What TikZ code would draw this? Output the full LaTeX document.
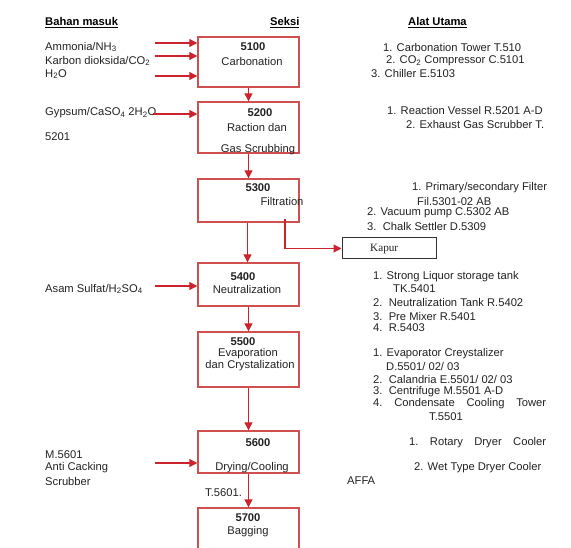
\documentclass[tikz,border=0pt]{standalone}
\usepackage{fontspec}
\setmainfont{Liberation Sans}
\newfontfamily\serifk{Liberation Serif}
\usetikzlibrary{arrows.meta}
\definecolor{boxred}{RGB}{208,80,80}
\definecolor{arrred}{RGB}{205,35,45}
\definecolor{txt}{RGB}{35,35,35}
\begin{document}
\begin{tikzpicture}[x=1pt,y=-1pt,
  fs/.style={font=\fontsize{11.2}{13}\selectfont},
  proc/.style={draw=boxred, line width=1.4pt, minimum width=101pt, inner sep=0pt},
  arr/.style={draw=arrred, line width=1.2pt, -{Triangle[length=8pt,width=8pt]}},
  lbl/.style={fs, anchor=west, inner sep=0pt, text=txt},
  ctr/.style={fs, inner sep=0pt, text=txt},
  bctr/.style={font=\fontsize{11.2}{13}\selectfont\bfseries, inner sep=0pt, text=txt},
  hdr/.style={font=\fontsize{11.2}{13}\selectfont\bfseries, anchor=west, inner sep=0pt, text=black}]
\useasboundingbox (0,0) rectangle (571,548);
\clip (0,0) rectangle (571,548);
\fill[white] (0,0) rectangle (571,548);

% headers
\node[hdr] (h1) at (45,23) {\underline{Bahan masuk}};
\node[hdr] (h2) at (270,23) {\underline{Seksi}};
\node[hdr] (h3) at (408,23) {\underline{Alat Utama}};

% process boxes
\node[proc, minimum height=50pt] (b51) at (248.5,62) {};
\node[proc, minimum height=51pt] (b52) at (248.5,127.5) {};
\node[proc, minimum height=43pt] (b53) at (248.5,200.5) {};
\node[proc, minimum height=43pt] (b54) at (248.5,284.5) {};
\node[proc, minimum height=55pt] (b55) at (248.5,359.5) {};
\node[proc, minimum height=42pt] (b56) at (248.5,452) {};
\node[proc, minimum height=54pt] (b57) at (248.5,535) {};

% box texts
\node[bctr] (t51a) at (253,47) {5100};
\node[ctr]  (t51b) at (252,61) {Carbonation};
\node[bctr] (t52a) at (260,113) {5200};
\node[ctr]  (t52b) at (257,127) {Raction dan};
\node[ctr]  (t52c) at (258,150) {Gas Scrubbing};
\node[bctr] (t53a) at (258,188) {5300};
\node[ctr]  (t53b) at (282,201) {Filtration};
\node[bctr] (t54a) at (243,277) {5400};
\node[ctr]  (t54b) at (247,289) {Neutralization};
\node[bctr] (t55a) at (243,342) {5500};
\node[ctr]  (t55b) at (248,354) {Evaporation};
\node[ctr]  (t55c) at (250,366) {dan Crystalization};
\node[bctr] (t56a) at (258,443) {5600};
\node[ctr]  (t56b) at (252,468) {Drying/Cooling};
\node[bctr] (t57a) at (248,518) {5700};
\node[ctr]  (t57b) at (248,532) {Bagging};

% Kapur
\node[draw=black!80, line width=1pt, minimum width=94pt, minimum height=21pt, inner sep=0pt] (kap) at (389,248.5) {};
\node[font=\fontsize{11.2}{13}\selectfont\serifk, anchor=west, inner sep=0pt, text=txt] (kapt) at (370,249.5) {Kapur};

% vertical flow
\draw[arr] (b51.south) -- (b52.north);
\draw[arr] (b52.south) -- (b53.north);
\draw[arr] ([xshift=-1pt]b53.south) -- ([xshift=-1pt]b54.north);
\draw[arr] (b54.south) -- (b55.north);
\draw[arr] (b55.south) -- (b56.north);
\draw[arr] (b56.south) -- (b57.north);
\coordinate (k1) at (285,219);
\draw[arr] (k1) |- (kap.west);

% inputs (left column)
\node[lbl] (i1) at (45,47) {Ammonia/NH\textsubscript{3}};
\node[lbl] (i2) at (45,61) {Karbon dioksida/CO\textsubscript{2}};
\node[lbl] (i3) at (45,74) {H\textsubscript{2}O};
\node[lbl] (i4) at (45,113) {Gypsum/CaSO\textsubscript{4} 2H\textsubscript{2}O};
\node[lbl] (i5) at (45,137) {5201};
\node[lbl] (i6) at (45,289) {Asam Sulfat/H\textsubscript{2}SO\textsubscript{4}};
\node[lbl] (i7) at (45,455) {M.5601};
\node[lbl] (i8) at (45,468) {Anti Cacking};
\node[lbl] (i9) at (45,481) {Scrubber};
\node[lbl] (i10) at (205,493) {T.5601.};

\coordinate (a1) at (155,43);
\coordinate (a2) at (155,56);
\coordinate (a3) at (155,76);
\coordinate (a4) at (153,114);
\coordinate (a5) at (155,286);
\coordinate (a6) at (155,463);
\draw[arr] (a1) -- (a1 -| b51.west);
\draw[arr] (a2) -- (a2 -| b51.west);
\draw[arr] (a3) -- (a3 -| b51.west);
\draw[arr] (a4) -- (a4 -| b52.west);
\draw[arr] (a5) -- (a5 -| b54.west);
\draw[arr] (a6) -- (a6 -| b56.west);

% equipment (right column)
\node[lbl] (r1) at (383,47) {1. Carbonation Tower T.510};
\node[lbl] (r2) at (386,61) {2. CO\textsubscript{2} Compressor C.5101};
\node[lbl] (r3) at (371,73) {3. Chiller E.5103};
\node[lbl] (r4) at (387,110) {1. Reaction Vessel R.5201 A-D};
\node[lbl] (r5) at (406,124) {2. Exhaust Gas Scrubber T.};
\node[lbl] (r6) at (412,188) {1. Primary/secondary Filter};
\node[lbl] (r7) at (417,201) {Fil.5301-02 AB};
\node[lbl] (r8) at (367,213) {2. Vacuum pump C.5302 AB};
\node[lbl] (r9) at (367,226) {3.\ \ Chalk Settler D.5309};
\node[lbl] (r10) at (373,277) {1. Strong Liquor storage tank};
\node[lbl] (r11) at (393,289) {TK.5401};
\node[lbl] (r12) at (373,302) {2.\ \ Neutralization Tank R.5402};
\node[lbl] (r13) at (373,316) {3.\ \ Pre Mixer R.5401};
\node[lbl] (r14) at (373,328) {4.\ \ R.5403};
\node[lbl] (r15) at (373,354) {1. Evaporator Creystalizer};
\node[lbl] (r16) at (386,366) {D.5501/ 02/ 03};
\node[lbl] (r17) at (373,379) {2.\ \ Calandria E.5501/ 02/ 03};
\node[lbl] (r18) at (373,392) {3.\ \ Centrifuge M.5501 A-D};
\node[lbl] (r19) at (373,404) {\makebox[173pt][s]{4.\hfill Condensate\hfill Cooling\hfill Tower}};
\node[lbl] (r20) at (429,417) {T.5501};
\node[lbl] (r21) at (409,443) {\makebox[137pt][s]{1.\hfill Rotary\hfill Dryer\hfill Cooler}};
\node[lbl] (r22) at (414,468) {2. Wet Type Dryer Cooler};
\node[lbl] (r23) at (347,481) {AFFA};
\end{tikzpicture}
\end{document}
